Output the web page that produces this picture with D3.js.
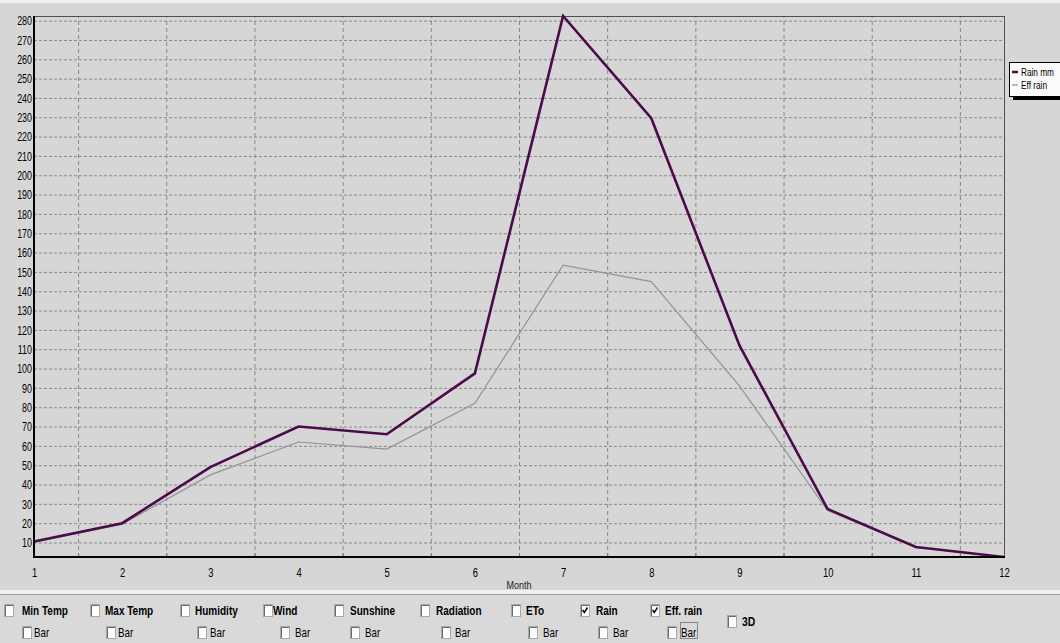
<!DOCTYPE html>
<html>
<head>
<meta charset="utf-8">
<script src="https://cdn.jsdelivr.net/npm/d3@7/dist/d3.min.js"></script>
<style>
  html, body { margin: 0; padding: 0; background: #d6d6d6; }
  svg { display: block; }
  text { font-family: 'Liberation Sans', Arial, sans-serif; }
</style>
</head>
<body>
<svg id="chart" width="1060" height="643"></svg>
<script>
// ---- data ----
const months = [1, 2, 3, 4, 5, 6, 7, 8, 9, 10, 11, 12];
const rain = [10.5, 20, 49, 70, 66, 97.5, 282.4, 229.5, 112, 27.3, 7.7, 2.5];
const effRain = [10, 19.5, 45, 62, 58.3, 82, 153.5, 145, 91, 26.5, 7.5, 2.5];
const yTickValues = [10, 20, 30, 40, 50, 60, 70, 80, 90, 100, 110, 120, 130, 140, 150, 160, 170, 180, 190, 200, 210, 220, 230, 240, 250, 260, 270, 280];
const legendLabels = ["Rain  mm", "Eff rain"];
const panelLabels = ["Min Temp", "Max Temp", "Humidity", "Wind", "Sunshine", "Radiation", "ETo", "Rain", "Eff. rain"];
const panelChecked = [false, false, false, false, false, false, false, true, true];
const barLabel = "Bar";
const xTitle = "Month";

// ---- layout ----
const W = 1060, H = 643;
const plot = { left: 34, right: 1004, top: 16, bottom: 557 };
const rainColor = "#4d0a4a";
const effColor = "#939393";
const svg = d3.select("#chart");

// condense text horizontally (narrow font look)
function condense(sel, k) {
  sel.each(function () {
    const t = d3.select(this);
    const xv = +t.attr("x") || 0;
    t.attr("x", xv / k).attr("transform", `scale(${k},1)`);
  });
}

// backgrounds
svg.append("rect").attr("x", 0).attr("y", 0).attr("width", W).attr("height", H).attr("fill", "#d6d6d6");
svg.append("rect").attr("x", 0).attr("y", 0).attr("width", W).attr("height", 3).attr("fill", "#f0f0f0");
svg.append("rect").attr("x", 0).attr("y", 590).attr("width", W).attr("height", 4).attr("fill", "#f0f0f0");
svg.append("rect").attr("x", 0).attr("y", 594).attr("width", W).attr("height", H - 594).attr("fill", "#d9d9d9");
svg.append("line").attr("x1", 0).attr("x2", W).attr("y1", 594.5).attr("y2", 594.5).attr("stroke", "#a0a0a0");

// scales
const x = d3.scaleLinear().domain(d3.extent(months)).range([plot.left, plot.right]);
const y = d3.scaleLinear().domain([d3.min(rain), d3.max(rain)]).range([plot.bottom, plot.top]);

// grids
const halfMonths = months.slice(0, -1).map(m => m + 0.5);
svg.append("g")
  .attr("transform", `translate(0,${plot.bottom})`)
  .call(d3.axisBottom(x).tickValues(halfMonths).tickSize(-(plot.bottom - plot.top)).tickFormat(""))
  .call(g => g.select(".domain").remove())
  .call(g => g.selectAll("line").attr("stroke", "#888").attr("stroke-dasharray", "4,3"));

svg.append("g")
  .attr("transform", `translate(${plot.left},0)`)
  .call(d3.axisLeft(y).tickValues(yTickValues).tickSize(-(plot.right - plot.left)).tickFormat(""))
  .call(g => g.select(".domain").remove())
  .call(g => g.selectAll("line").attr("stroke", "#8a8a8a").attr("stroke-dasharray", "3,2"));

// frame
svg.append("line").attr("x1", plot.left).attr("x2", plot.right).attr("y1", plot.top + 0.5).attr("y2", plot.top + 0.5).attr("stroke", "#505050");
svg.append("line").attr("x1", plot.right + 0.5).attr("x2", plot.right + 0.5).attr("y1", plot.top).attr("y2", plot.bottom).attr("stroke", "#505050");

// series
const lineGen = vals => d3.line().x((d, i) => x(months[i])).y(d => y(d))(vals);
svg.append("path").attr("d", lineGen(effRain)).attr("fill", "none").attr("stroke", effColor).attr("stroke-width", 1.2);
svg.append("path").attr("d", lineGen(rain)).attr("fill", "none").attr("stroke", rainColor).attr("stroke-width", 2.6).attr("stroke-linejoin", "miter");

// axes lines
svg.append("line").attr("x1", plot.left).attr("x2", plot.left).attr("y1", plot.top).attr("y2", plot.bottom + 1).attr("stroke", "#000").attr("stroke-width", 2);
svg.append("line").attr("x1", plot.left - 1).attr("x2", plot.right + 1).attr("y1", plot.bottom).attr("y2", plot.bottom).attr("stroke", "#000").attr("stroke-width", 2);

// small ticks on bottom axis
svg.append("g")
  .attr("transform", `translate(0,${plot.bottom - 1})`)
  .call(d3.axisBottom(x).tickValues(halfMonths).tickSize(-3).tickFormat(""))
  .call(g => g.select(".domain").remove())
  .call(g => g.selectAll("line").attr("stroke", "#777"));

// y axis labels
svg.append("g")
  .attr("transform", `translate(${plot.left},0)`)
  .call(d3.axisLeft(y).tickValues(yTickValues).tickSize(0).tickPadding(2))
  .call(g => g.select(".domain").remove())
  .call(g => g.selectAll("text").attr("font-size", 13.5).attr("fill", "#000")
    .attr("font-family", "'Liberation Sans', Arial, sans-serif").call(condense, 0.66));

// x axis labels
svg.append("g")
  .attr("transform", `translate(0,${plot.bottom})`)
  .call(d3.axisBottom(x).tickValues(months).tickSize(0).tickPadding(10).tickFormat(d3.format("d")))
  .call(g => g.select(".domain").remove())
  .call(g => g.selectAll("text").attr("font-size", 13.5).attr("fill", "#000")
    .attr("font-family", "'Liberation Sans', Arial, sans-serif").call(condense, 0.7));

svg.append("text").attr("x", (plot.left + plot.right) / 2).attr("y", 589)
  .attr("text-anchor", "middle").attr("font-size", 11).attr("fill", "#222").text(xTitle).call(condense, 0.82);

// legend
const lg = svg.append("g").attr("transform", "translate(1009,62)");
lg.append("rect").attr("x", 4).attr("y", 4).attr("width", 60).attr("height", 34).attr("fill", "#000");
lg.append("rect").attr("x", 0.5).attr("y", 0.5).attr("width", 60).attr("height", 34).attr("fill", "#fbfbfb").attr("stroke", "#000");
const legColors = [rainColor, effColor];
const legWidths = [2.5, 1.2];
legendLabels.forEach((lab, i) => {
  const yy = 10 + i * 13;
  lg.append("line").attr("x1", 3).attr("x2", 9).attr("y1", yy).attr("y2", yy).attr("stroke", legColors[i]).attr("stroke-width", legWidths[i]);
  lg.append("text").attr("x", 12).attr("y", yy + 4).attr("font-size", 11).attr("fill", "#000").text(lab).call(condense, 0.75);
});

// checkbox panel
const row1X = [4, 90, 180, 263, 334, 420, 511, 580, 650];
const row1TextX = [22, 105, 195, 273, 350, 436, 526, 596, 665];
const row2X = [22, 106, 197, 280, 350, 441, 528, 598, 667];
const row2TextX = [34, 118, 210, 295, 365, 455, 543, 613, 681];

function checkbox(g, cx, cy, checked) {
  const w = 9, h = 12;
  g.append("rect").attr("x", cx + 0.5).attr("y", cy + 0.5).attr("width", w).attr("height", h).attr("fill", "#fff").attr("stroke", "#a8a8a8");
  g.append("path").attr("d", `M${cx + 1.5},${cy + h} V${cy + 1.5} H${cx + w}`).attr("fill", "none").attr("stroke", "#6a6a6a");
  if (checked) {
    g.append("path").attr("d", `M${cx + 2.5},${cy + 6} L${cx + 4.3},${cy + 8.5} L${cx + 7.5},${cy + 3.5}`)
      .attr("fill", "none").attr("stroke", "#000").attr("stroke-width", 1.5);
  }
}
const panel = svg.append("g");
panelLabels.forEach((lab, i) => {
  checkbox(panel, row1X[i], 604, panelChecked[i]);
  panel.append("text").attr("x", row1TextX[i]).attr("y", 615).attr("font-size", 13).attr("font-weight", "bold").attr("fill", "#000").text(lab).call(condense, 0.77);
  checkbox(panel, row2X[i], 626, false);
  panel.append("text").attr("x", row2TextX[i]).attr("y", 637).attr("font-size", 12.5).attr("fill", "#000").text(barLabel).call(condense, 0.78);
});
// focus rectangle on last "Bar"
panel.append("rect").attr("x", 680.5).attr("y", 622.5).attr("width", 17).attr("height", 16).attr("fill", "none").attr("stroke", "#333").attr("stroke-dasharray", "1,1");
checkbox(panel, 727, 615, false);
panel.append("text").attr("x", 742).attr("y", 626).attr("font-size", 13).attr("font-weight", "bold").attr("fill", "#000").text("3D").call(condense, 0.8);
</script>
</body>
</html>
